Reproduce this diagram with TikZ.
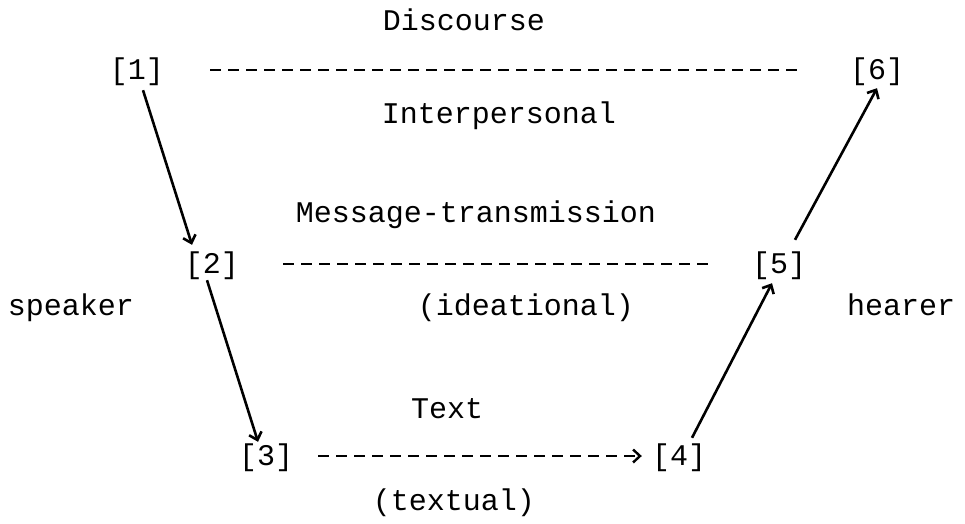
\documentclass[tikz,border=0pt]{standalone}
\usepackage{fontspec}
\setmainfont{Liberation Mono}
\usetikzlibrary{arrows.meta,calc}
\tikzset{
  lbl/.style={anchor=base, inner sep=0pt, font=\fontsize{30}{36}\selectfont},
  num/.style={anchor=base, inner sep=0pt, text height=22pt, text depth=4pt, font=\fontsize{30}{36}\selectfont},
  link/.style={line width=2.6pt, -{Straight Barb[length=7pt,width=13pt,line width=2.6pt]}},
  dashline/.style={line width=2.4pt, dash pattern=on 11pt off 7pt},
}
\begin{document}
\begin{tikzpicture}[x=1pt,y=-1pt]
\useasboundingbox[fill=white] (0,0) rectangle (965,523);
% bracket labels
\node[num] (n1) at (137,79) {[1]};
\node[num] (n2) at (212,273) {[2]};
\node[num] (n3) at (266,465) {[3]};
\node[num] (n4) at (679,465) {[4]};
\node[num] (n5) at (779,273) {[5]};
\node[num] (n6) at (877,79) {[6]};
% texts
\node[lbl] (disc) at (464,30) {Discourse};
\node[lbl] (inter) at (499,123) {Interpersonal};
\node[lbl] (msg) at (476,222) {Message-transmission};
\node[lbl] (spk) at (71,315) {speaker};
\node[lbl] (idea) at (526,315) {(ideational)};
\node[lbl] (hear) at (901,315) {hearer};
\node[lbl] (txt) at (447,418) {Text};
\node[lbl] (textual) at (454,510) {(textual)};
% solid arrows
\draw[link] ($(n1.south)+(6,7)$) -- ($(n2.north)+(-20,-6)$);
\draw[link] ($(n2.south)+(-5,3)$) -- ($(n3.north)+(-8,-1)$);
\draw[link] ($(n4.north)+(13,-5)$) -- ($(n5.south)+(-7,6)$);
\draw[link] ($(n5.north)+(16,-11)$) -- ($(n6.south)+(0,5)$);
% dashed lines
\draw[dashline, shorten <=46pt, shorten >=47pt] (n1.east) -- (n6.west);
\draw[dashline, shorten <=44pt, shorten >=42pt] (n2.east) -- (n5.west);
\draw[dashline, shorten <=25pt, shorten >=10pt, -{Straight Barb[length=7pt,width=13pt,line width=2.4pt]}] (n3.east) -- (n4.west);
\end{tikzpicture}
\end{document}
